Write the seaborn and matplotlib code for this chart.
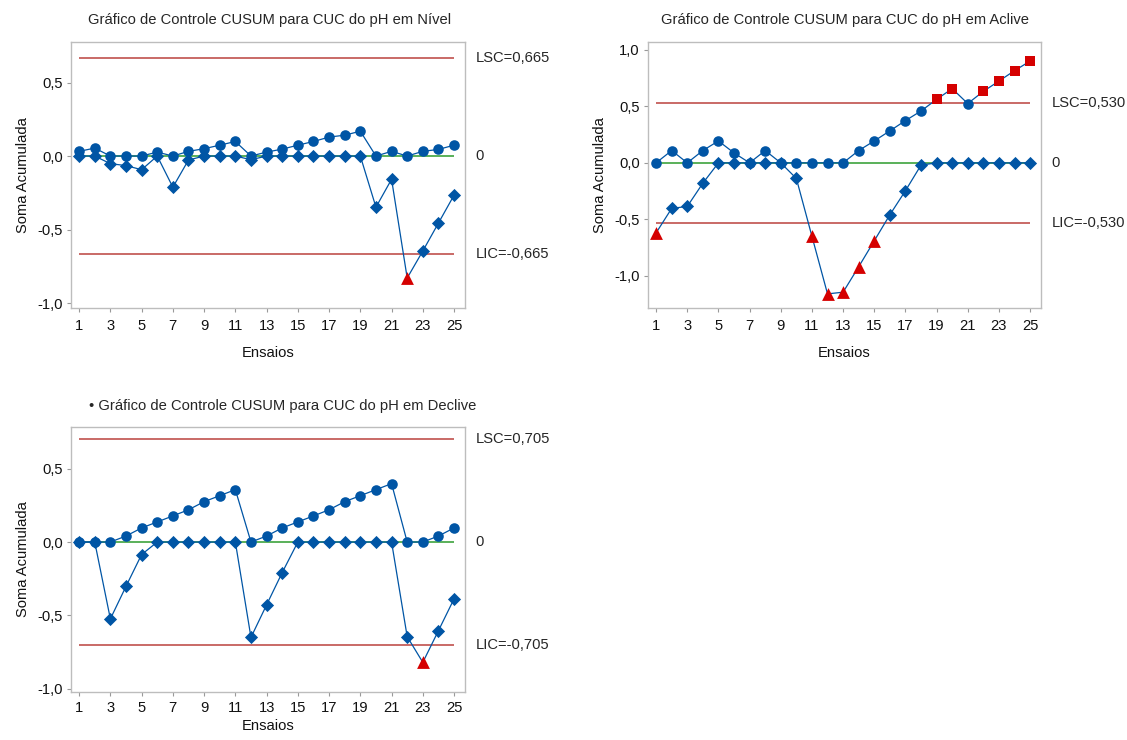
import matplotlib
matplotlib.use("Agg")
import matplotlib.pyplot as plt
import matplotlib.transforms as mtransforms
from matplotlib.ticker import FuncFormatter, FixedLocator
import pandas as pd
import seaborn as sns

# ---------------- data ----------------
ensaios = list(range(1, 26))
x_ticks = list(range(1, 26, 2))

nivel_sup = [0.032, 0.054, 0.0, 0.0, 0.0, 0.027, 0.0, 0.032, 0.050, 0.074, 0.099, 0.0, 0.027,
             0.047, 0.074, 0.099, 0.129, 0.142, 0.169, 0.0, 0.032, 0.0, 0.032, 0.045, 0.074]
nivel_inf = [0.0, 0.0, -0.052, -0.065, -0.093, 0.0, -0.212, -0.027, 0.0, 0.0, 0.0, -0.025, 0.0,
             0.0, 0.0, 0.0, 0.0, 0.0, 0.0, -0.348, -0.158, -0.830, -0.646, -0.456, -0.266]

aclive_sup = [0.0, 0.109, 0.0, 0.109, 0.194, 0.088, 0.0, 0.109, 0.0, 0.0, 0.0, 0.0, 0.0,
              0.109, 0.194, 0.283, 0.374, 0.459, 0.562, 0.657, 0.525, 0.633, 0.724, 0.816, 0.901]
aclive_inf = [-0.620, -0.403, -0.386, -0.180, 0.0, 0.0, 0.0, 0.0, 0.0, -0.138, -0.650, -1.160,
              -1.145, -0.920, -0.690, -0.460, -0.247, -0.020, 0.0, 0.0, 0.0, 0.0, 0.0, 0.0, 0.0]

declive_sup = [0.0, 0.0, 0.0, 0.041, 0.096, 0.137, 0.178, 0.220, 0.275, 0.316, 0.357, 0.0, 0.041,
               0.096, 0.137, 0.178, 0.220, 0.275, 0.316, 0.357, 0.398, 0.0, 0.0, 0.041, 0.096]
declive_inf = [0.0, 0.0, -0.524, -0.302, -0.085, 0.0, 0.0, 0.0, 0.0, 0.0, 0.0, -0.650, -0.428,
               -0.208, 0.0, 0.0, 0.0, 0.0, 0.0, 0.0, 0.0, -0.645, -0.820, -0.604, -0.387]

limite_nivel = 0.665
limite_aclive = 0.530
limite_declive = 0.705

titulos = ["Gráfico de Controle CUSUM para CUC do pH em Nível",
           "Gráfico de Controle CUSUM para CUC do pH em Aclive",
           "• Gráfico de Controle CUSUM para CUC do pH em Declive"]
ticks_y_a = [-1.0, -0.5, 0.0, 0.5]
ticks_y_b = [-1.0, -0.5, 0.0, 0.5, 1.0]

# ---------------- style ----------------
sns.set_theme(style="white")
plt.rcParams["font.family"] = ["Liberation Sans", "DejaVu Sans"]

BLUE = "#0055A5"
RED_LINE = "#C0504D"
GREEN = "#3DA33D"
RED_MK = "#D50000"
SPINE = "#BDBDBD"
FS = 10.6

W, H = 1127, 740
fig = plt.figure(figsize=(W / 100, H / 100), dpi=100)


def px_axes(l, t, r, b):
    return fig.add_axes([l / W, 1 - b / H, (r - l) / W, (b - t) / H])


def fmt(v, _):
    return f"{v:.1f}".replace(".", ",")


def painel(ax, sup, inf, h, yticks, ylim, xpad=5, xlabpad=9):
    df = pd.DataFrame({"Ensaio": ensaios, "sup": sup, "inf": inf})
    ax.hlines([h, -h], ensaios[0], ensaios[-1], color=RED_LINE, lw=1.2, zorder=1)
    ax.hlines(0, ensaios[0], ensaios[-1], color=GREEN, lw=1.2, zorder=1)
    sns.lineplot(data=df, x="Ensaio", y="sup", ax=ax, color=BLUE, lw=0.9, zorder=2)
    sns.lineplot(data=df, x="Ensaio", y="inf", ax=ax, color=BLUE, lw=0.9, zorder=2)
    ok_s, out_s = df[df["sup"] <= h], df[df["sup"] > h]
    ok_i, out_i = df[df["inf"] >= -h], df[df["inf"] < -h]
    sns.scatterplot(data=ok_s, x="Ensaio", y="sup", ax=ax, marker="o", s=58,
                    color=BLUE, linewidth=0, zorder=3)
    sns.scatterplot(data=out_s, x="Ensaio", y="sup", ax=ax, marker="s", s=50,
                    color=RED_MK, linewidth=0, zorder=3)
    sns.scatterplot(data=ok_i, x="Ensaio", y="inf", ax=ax, marker="D", s=45,
                    color=BLUE, linewidth=0, zorder=4)
    sns.scatterplot(data=out_i, x="Ensaio", y="inf", ax=ax, marker="^", s=85,
                    color=RED_MK, linewidth=0, zorder=4)

    ax.set_xlim(0.48, 25.7)
    ax.set_ylim(*ylim)
    ax.xaxis.set_major_locator(FixedLocator(x_ticks))
    ax.yaxis.set_major_locator(FixedLocator(yticks))
    ax.yaxis.set_major_formatter(FuncFormatter(fmt))
    ax.tick_params(axis="both", which="major", length=3, width=0.8, color="#999999",
                   labelsize=FS, labelcolor="#111111", pad=3, bottom=True, left=True)
    ax.tick_params(axis="x", pad=xpad)
    ax.grid(False)
    for sp in ax.spines.values():
        sp.set_color(SPINE)
        sp.set_linewidth(1.0)
    ax.set_xlabel("Ensaios", fontsize=FS, labelpad=xlabpad, color="#111111")
    ax.set_ylabel("Soma Acumulada", fontsize=FS, labelpad=5, color="#111111")

    trans = mtransforms.blended_transform_factory(ax.transAxes, ax.transData)
    xoff = 1 + 10.7 / (ax.get_position().width * W)
    lab = f"{h:.3f}".replace(".", ",")
    ax.text(xoff, h, f"LSC={lab}", transform=trans, ha="left", va="center", fontsize=FS)
    ax.text(xoff, 0, "0", transform=trans, ha="left", va="center", fontsize=FS)
    ax.text(xoff, -h, f"LIC=-{lab}", transform=trans, ha="left", va="center", fontsize=FS)


ax1 = px_axes(71, 42, 465, 308)
painel(ax1, nivel_sup, nivel_inf, limite_nivel, ticks_y_a, (-1.034, 0.776))
fig.text(270 / W, 1 - 20 / H, titulos[0], ha="center", va="center", fontsize=FS)

ax2 = px_axes(648, 42, 1041, 308)
painel(ax2, aclive_sup, aclive_inf, limite_aclive, ticks_y_b, (-1.285, 1.07))
fig.text(845 / W, 1 - 20 / H, titulos[1], ha="center", va="center", fontsize=FS)

ax3 = px_axes(71, 427, 465, 692)
painel(ax3, declive_sup, declive_inf, limite_declive, ticks_y_a, (-1.022, 0.784),
       xpad=3.5, xlabpad=3)
fig.text(283 / W, 1 - 406 / H, titulos[2], ha="center", va="center", fontsize=FS)

fig.savefig("out.png", dpi=100)
